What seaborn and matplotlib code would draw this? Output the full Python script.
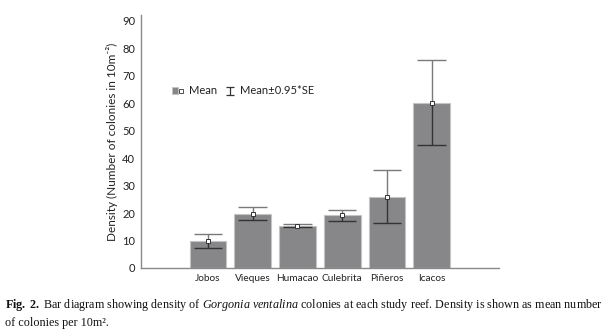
import matplotlib
matplotlib.use("Agg")
import matplotlib.pyplot as plt
import seaborn as sns
import pandas as pd
from matplotlib.patches import Patch
from matplotlib.lines import Line2D
from matplotlib.path import Path
from matplotlib.legend_handler import HandlerTuple

# ---- data ----
sites = ["Jobos", "Vieques", "Humacao", "Culebrita", "Piñeros", "Icacos"]
means = [9.9, 19.8, 15.4, 19.1, 25.9, 60.1]
errs = [2.6, 2.4, 0.6, 2.0, 9.7, 15.5]
order = [""] + sites + [" "]
yticks = list(range(0, 91, 10))

sns.set_style("white")
plt.rcParams["font.family"] = ["Lato", "DejaVu Sans"]
plt.rcParams["mathtext.fontset"] = "custom"
plt.rcParams["mathtext.rm"] = "Liberation Serif"
plt.rcParams["mathtext.it"] = "Liberation Serif:italic"
plt.rcParams["mathtext.bf"] = "Liberation Serif:bold"

df = pd.DataFrame({"site": sites, "mean": means, "err": errs})

fig = plt.figure(figsize=(6.15, 3.35), dpi=100)
ax = fig.add_axes([0.229, 0.2, 0.582, 0.755])

bar_color = "#87878a"
sns.barplot(data=df, x="site", y="mean", order=order, color=bar_color,
            saturation=1, width=0.82, edgecolor="#c4c4c4", linewidth=0.8,
            errorbar=None, ax=ax)

upper_c = "#7a7a7a"
lower_c = "#333333"
cap = 0.32
for s, m, e in zip(sites, means, errs):
    xi = order.index(s)
    ax.vlines(xi, m, m + e, color=upper_c, lw=1.0, zorder=3)
    ax.hlines(m + e, xi - cap, xi + cap, color=upper_c, lw=1.0, zorder=3)
    ax.vlines(xi, m - e, m, color=lower_c, lw=1.0, zorder=3)
    ax.hlines(m - e, xi - cap, xi + cap, color=lower_c, lw=1.0, zorder=3)
    ax.plot([xi], [m], marker="s", ms=3.2, mfc="white", mec="#333333",
            mew=0.7, zorder=4)

ax.set_xlim(-0.5, len(order) - 0.5)
ax.set_ylim(0, 92)
ax.set_yticks(yticks)
ax.set_xlabel("")
ax.set_ylabel("Density (Number of colonies in 10m⁻²)",
              fontsize=8.5, color="#222222", labelpad=3)

for side in ["top", "right"]:
    ax.spines[side].set_visible(False)
for side in ["left", "bottom"]:
    ax.spines[side].set_color("#8a8a8a")
    ax.spines[side].set_linewidth(1.0)
ax.tick_params(axis="both", direction="out", length=2.5, width=0.8,
               color="#8a8a8a", labelsize=8, labelcolor="#222222", pad=1.5)
ax.tick_params(axis="x", labelsize=7.3)

# legend
ibeam = Path([(-1, 1), (1, 1), (0, 1), (0, -1), (-1, -1), (1, -1)],
             [Path.MOVETO, Path.LINETO, Path.MOVETO, Path.LINETO,
              Path.MOVETO, Path.LINETO])
mean_handle = (Patch(facecolor=bar_color, edgecolor="#c4c4c4", linewidth=0.6),
               Line2D([], [], ls="none", marker="s", ms=2.5, mfc="white",
                      mec="#333333", mew=0.6))
err_handle = Line2D([], [], ls="none", marker=ibeam, ms=6, mec="#333333",
                    mew=0.9, fillstyle="none")
leg = ax.legend([mean_handle, err_handle], ["Mean", "Mean±0.95*SE"], ncol=2,
                handler_map={tuple: HandlerTuple(ndivide=None, pad=0)},
                loc="center left", bbox_to_anchor=(0.06, 0.70), frameon=False,
                fontsize=8, handlelength=1.1, handletextpad=0.4,
                columnspacing=0.6, labelcolor="#222222")

# caption
fig.text(0.008, 0.08,
         r"$\mathbf{Fig.\ 2.}$ Bar diagram showing density of "
         r"$\mathit{Gorgonia\ ventalina}$ colonies at each study reef. "
         "Density is shown as mean number",
         fontsize=8.7, family="Liberation Serif", color="#111111")
fig.text(0.008, 0.027, "of colonies per 10m².",
         fontsize=8.7, family="Liberation Serif", color="#111111")

fig.savefig("out.png", dpi=100)
